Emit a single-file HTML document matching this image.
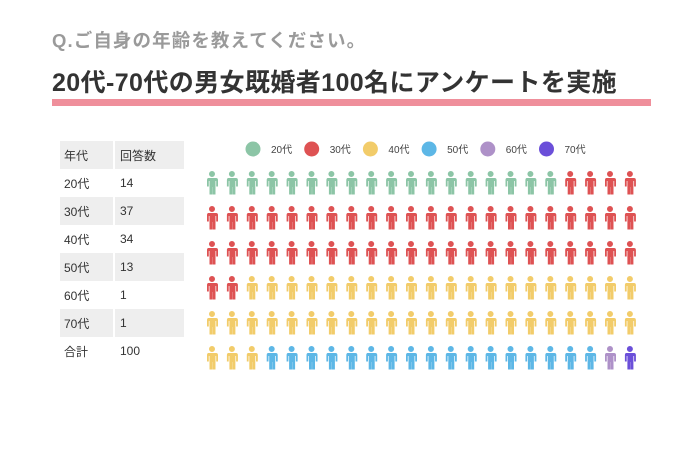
<!DOCTYPE html>
<html><head><meta charset="utf-8"><style>
body{margin:0;width:700px;height:450px;background:#fff;font-family:"Liberation Sans","Noto Sans CJK JP",sans-serif;overflow:hidden;position:relative}
.abs{position:absolute}
#q{left:52px;top:27px;font-size:18.5px;font-weight:bold;color:#9a9a9a;letter-spacing:1.1px;white-space:nowrap}
#title{left:52px;top:63px;font-size:25px;font-weight:bold;color:#333;letter-spacing:0.4px;white-space:nowrap}
#bar{left:52px;top:99px;width:599px;height:7px;background:#ef8f9b}
table{position:absolute;left:60px;top:141px;border-collapse:collapse;font-size:12px;color:#333}
td{height:28px;padding:0 0 0 4px;vertical-align:middle}
td.c1{width:49px;border-right:2px solid #fff}
td.c2{width:64px;padding-left:5px}
tr.g td{background:#eeeeee}
</style></head><body>
<div id="q" class="abs">Q.ご自身の年齢を教えてください。</div>
<div id="title" class="abs">20代-70代の男女既婚者100名にアンケートを実施</div>
<div id="bar" class="abs"></div>
<table><tbody id="tb"></tbody></table>
<svg id="chart" class="abs" style="left:0;top:0" width="700" height="450"></svg>
<script>
const categories=["20代","30代","40代","50代","60代","70代"];
const values=[14,37,34,13,1,1];
const colors=["#8cc5a6","#de5253","#f2cc6a","#5db7e6","#ae91c8","#6b4fd9"];
const totalLabel="合計";
const NS="http://www.w3.org/2000/svg";
const tb=document.getElementById('tb');
function row(a,b,g,name){
  const tr=document.createElement('tr');
  if(g)tr.className='g';
  
  
  tr.innerHTML='<td class="c1">'+a+'</td><td class="c2">'+b+'</td>';
  tb.appendChild(tr);
}
row('年代','回答数',true,'table-header');
categories.forEach((c,i)=>row(c,values[i],i%2==1,'table-row-'+c));
row(totalLabel,values.reduce((s,v)=>s+v,0),false,'table-total');
const svg=document.getElementById('chart');
categories.forEach((c,i)=>{
  const x=253+i*58.7;
  const ci=document.createElementNS(NS,'circle');
  ci.setAttribute('cx',x);ci.setAttribute('cy',149);ci.setAttribute('r',7.5);ci.setAttribute('fill',colors[i]);
  
  
  svg.appendChild(ci);
  const t=document.createElementNS(NS,'text');
  t.setAttribute('x',x+18);t.setAttribute('y',153);t.setAttribute('font-size','10');t.setAttribute('fill','#444');
  t.textContent=c;
  
  
  svg.appendChild(t);
});
const COLS=22,ROWS=6,N=COLS*ROWS;
const total=values.reduce((s,v)=>s+v,0);
let counts=values.map(v=>Math.round(v*N/total));
let diff=N-counts.reduce((s,v)=>s+v,0);counts[1]+=diff;
const seq=[];counts.forEach((n,i)=>{for(let k=0;k<n;k++)seq.push(i);});
const xPos=i=>212+i*19.9, yPos=r=>171+r*35;
const iconPath="M7 0a3 3 0 1 1 0 6a3 3 0 1 1 0-6Z M3 7h8a2 2 0 0 1 2 2v6.5h-1.8V10h-0.7v13.5h-2.9V16h-0.2v7.5H4.5V10h-0.7v5.5H2V9a2 2 0 0 1 1-2Z";
seq.forEach((ci,k)=>{
  const p=document.createElementNS(NS,'path');
  p.setAttribute('d',iconPath);
  p.setAttribute('fill',colors[ci]);
  p.setAttribute('transform','translate('+(xPos(k%COLS)-7)+','+yPos(Math.floor(k/COLS))+')');
  
  
  svg.appendChild(p);
});
</script>
</body></html>
